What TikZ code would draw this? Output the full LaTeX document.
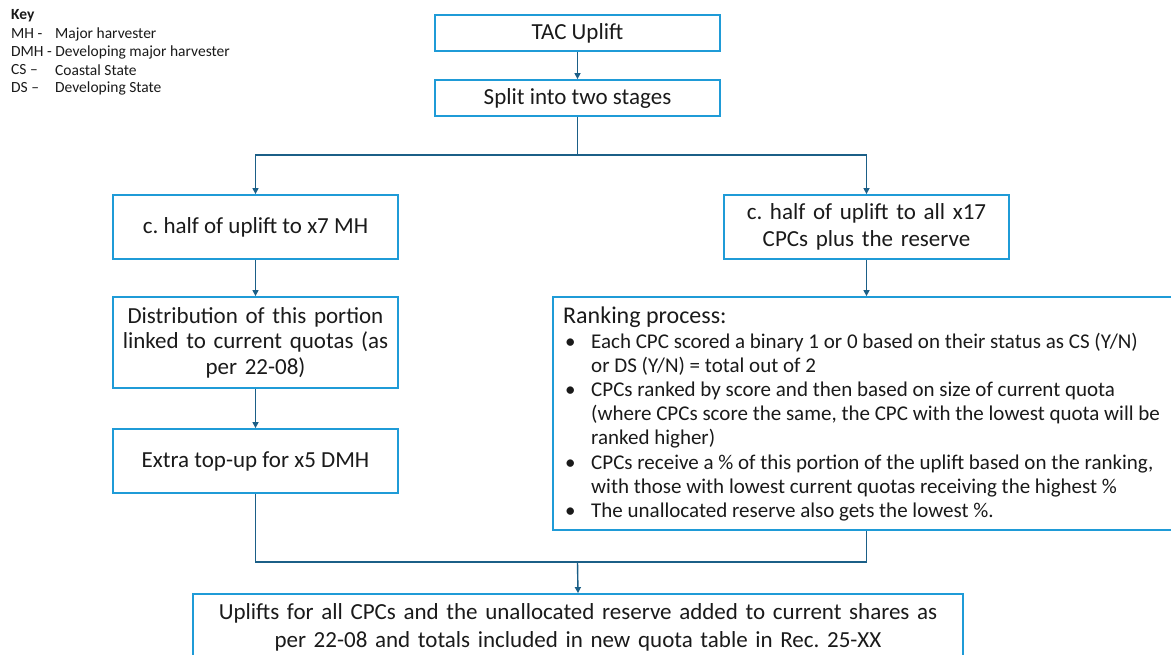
\documentclass[tikz,border=0pt]{standalone}
\usepackage{fontspec}
\setmainfont{Carlito}
\usetikzlibrary{arrows.meta}
\definecolor{boxblue}{HTML}{1F9BD7}
\definecolor{linecol}{HTML}{1B5F87}
\definecolor{txt}{HTML}{1A1A1A}
\tikzset{
  x=1pt, y=-1pt,
  box/.style={draw=boxblue, line width=1.8pt, rectangle, align=center, text=txt,
    inner sep=2pt, font=\fontsize{23}{27}\selectfont},
  conn/.style={draw=linecol, line width=1.4pt},
  arr/.style={conn, -{Triangle[length=6pt,width=6pt]}},
  keytxt/.style={anchor=west, inner sep=0pt, text=txt, font=\fontsize{15.5}{18}\selectfont},
}
\newcommand{\bul}{\makebox[28pt][l]{\hspace{2pt}\textbullet}}
\newcommand{\ind}{\hspace*{28pt}}
\begin{document}
\frenchspacing
\begin{tikzpicture}
\useasboundingbox (0,0) rectangle (1171,655);
% key
\node[keytxt, font=\bfseries\fontsize{15.5}{18}\selectfont] (key) at (11,16) {Key};
\node[keytxt] (k1a) at (11,34) {MH -};
\node[keytxt] (k1b) at (55,34) {Major harvester};
\node[keytxt] (k2) at (11,52) {DMH - Developing major harvester};
\node[keytxt] (k3a) at (11,70) {CS –};
\node[keytxt] (k3b) at (55,70) {Coastal State};
\node[keytxt] (k4a) at (11,88) {DS –};
\node[keytxt] (k4b) at (55,88) {Developing State};
% boxes
\node[box, minimum width=285pt, minimum height=36pt] (tac) at (577.5,33) {TAC Uplift};
\node[box, minimum width=285pt, minimum height=36pt] (split) at (577.5,98) {Split into two stages};
\node[box, minimum width=285pt, minimum height=64pt] (left1) at (255.5,227) {c. half of uplift to x7 MH};
\node[box, minimum width=285pt, minimum height=64pt, text width=280pt] (right1) at (866.5,227) {c. half of uplift to all x17\\CPCs plus the reserve};
\node[box, minimum width=285pt, minimum height=91pt, text width=280pt, font=\fontsize{23}{25.5}\selectfont] (dist) at (255.5,342.5) {Distribution of this portion\\linked to current quotas (as\\per 22-08)};
\node[box, minimum width=285pt, minimum height=64pt] (extra) at (255.5,461) {Extra top-up for x5 DMH};
\node[box, minimum width=620pt, minimum height=233pt] (rank) at (863,413.5) {};
\node[anchor=north west, align=left, text=txt, inner sep=0pt,
  font=\fontsize{21}{24.2}\selectfont] (ranktext) at (563,307) {%
{\fontsize{24}{24.2}\selectfont Ranking process:}\\
\bul Each CPC scored a binary 1 or 0 based on their status as CS (Y/N)\\
\ind or DS (Y/N) = total out of 2\\
\bul CPCs ranked by score and then based on size of current quota\\
\ind (where CPCs score the same, the CPC with the lowest quota will be\\
\ind ranked higher)\\
\bul CPCs receive a \% of this portion of the uplift based on the ranking,\\
\ind with those with lowest current quotas receiving the highest \%\\
\bul The unallocated reserve also gets the lowest \%.};
\node[box, minimum width=770pt, minimum height=66pt, text width=766pt, font=\fontsize{23}{28}\selectfont] (final) at (578,627) {Uplifts for all CPCs and the unallocated reserve added to current shares as\\per 22-08 and totals included in new quota table in Rec. 25-XX};
% connectors
\coordinate (bus) at (577.5,155);
\coordinate (bus2) at (577.5,562);
\draw[arr] (tac) -- (split);
\draw[conn] (split.south) -- (bus);
\draw[arr] (bus) -| (left1.north);
\draw[arr] (bus) -| (right1.north);
\draw[arr] (left1) -- (dist);
\draw[arr] (dist) -- (extra);
\draw[arr] (right1.south) -- (right1.south |- rank.north);
\draw[conn] (extra.south) |- (bus2);
\draw[conn] (right1.south |- rank.south) |- (bus2);
\draw[arr] (bus2) -- (final.north);
\end{tikzpicture}
\end{document}
